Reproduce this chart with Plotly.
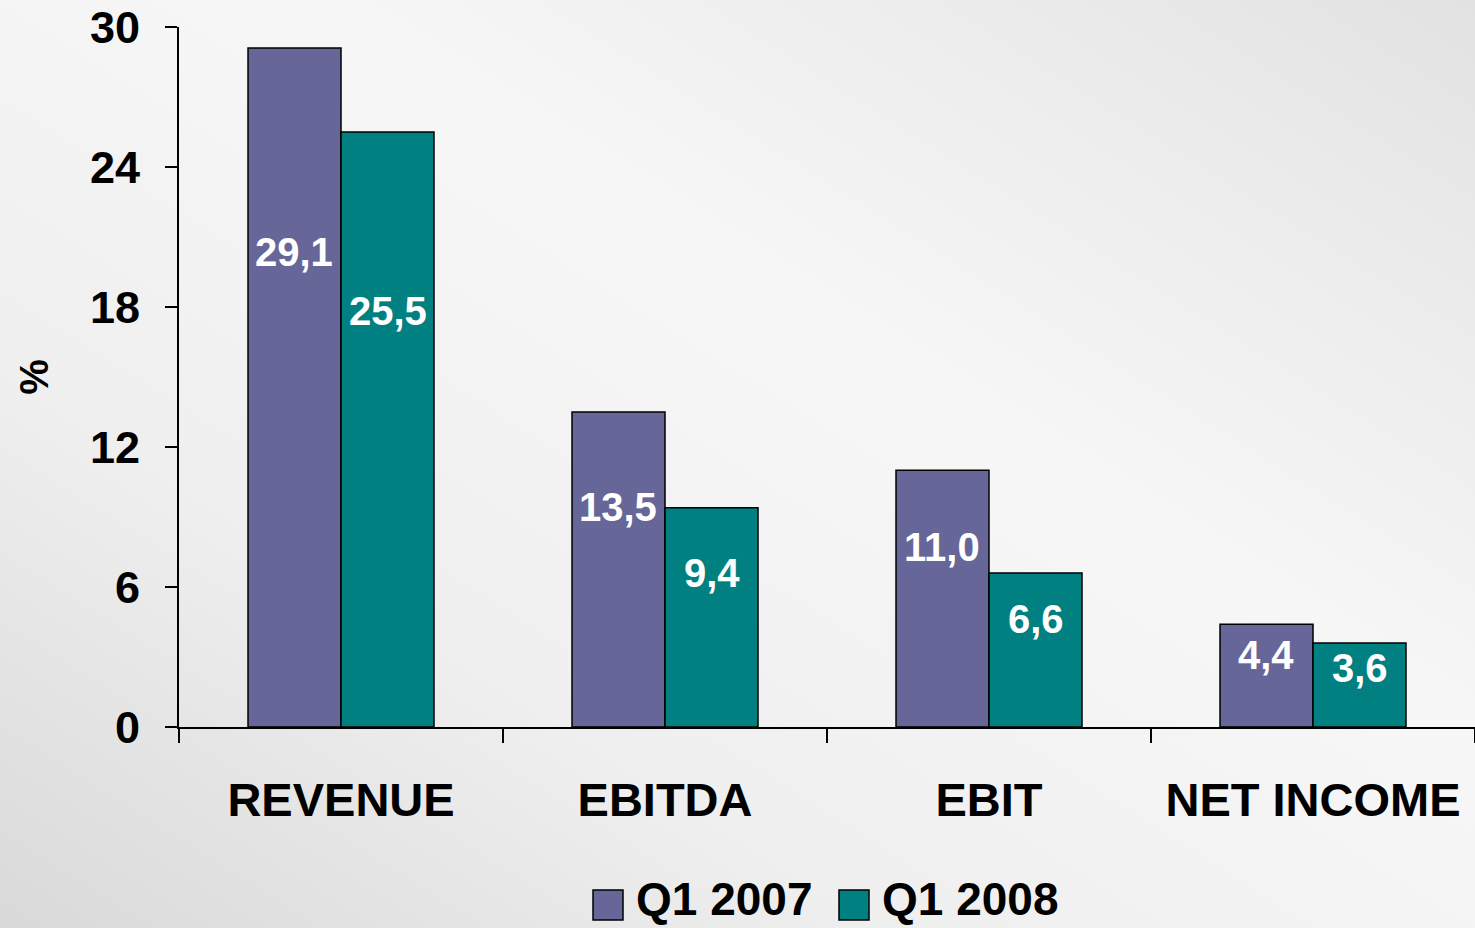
import base64
import plotly.graph_objects as go

categories = ["REVENUE", "EBITDA", "EBIT", "NET INCOME"]
series_names = ["Q1 2007", "Q1 2008"]
q1_2007 = [29.1, 13.5, 11.0, 4.4]
q1_2008 = [25.5, 9.4, 6.6, 3.6]
y_ticks = [0, 6, 12, 18, 24, 30]

colors = ["#666699", "#008080"]
FONT = "Liberation Sans, Arial, sans-serif"

fig = go.Figure()
for name, vals, col in zip(series_names, [q1_2007, q1_2008], colors):
    fig.add_trace(go.Bar(
        name=name, x=categories, y=vals,
        marker=dict(color=col, line=dict(color="#000000", width=1.5)),
        showlegend=False, hoverinfo="x+y+name",
    ))

# value labels inside bars
for si, (vals, shift) in enumerate(zip([q1_2007, q1_2008], [-47, 47])):
    for c, v in zip(categories, vals):
        fig.add_annotation(
            x=c, y=v * 0.7, xref="x", yref="y", xshift=shift,
            text=f"{v:.1f}".replace(".", ","), showarrow=False,
            font=dict(family=FONT, size=40, color="white", weight="bold"),
        )

# background gradient
svg = (
    '<svg xmlns="http://www.w3.org/2000/svg" width="1475" height="928" preserveAspectRatio="none">'
    '<defs><linearGradient id="g" x1="0" y1="1" x2="1" y2="0">'
    '<stop offset="0" stop-color="#d9d9d9"/>'
    '<stop offset="0.3" stop-color="#efefef"/>'
    '<stop offset="0.6" stop-color="#f7f7f7"/>'
    '<stop offset="0.8" stop-color="#ededed"/>'
    '<stop offset="1" stop-color="#e2e2e2"/>'
    '</linearGradient></defs>'
    '<rect width="1475" height="928" fill="url(#g)"/></svg>'
)
uri = "data:image/svg+xml;base64," + base64.b64encode(svg.encode()).decode()

W, H = 1475, 928
L, R, T, B = 179, 0, 27, 201
pw, ph = W - L - R, H - T - B
fig.add_layout_image(
    source=uri, xref="paper", yref="paper",
    x=-L / pw, y=1 + T / ph, sizex=W / pw, sizey=H / ph,
    xanchor="left", yanchor="top", sizing="stretch", layer="below",
)

# manual legend
def px2x(px):
    return (px - L) / pw

def py2y(py):
    return (H - B - py) / ph

leg_items = [(593, 638), (839, 884)]
for (sq, tx), name, col in zip(leg_items, series_names, colors):
    fig.add_shape(type="rect", xref="paper", yref="paper",
                  x0=px2x(sq), x1=px2x(sq + 30), y0=py2y(920), y1=py2y(890),
                  fillcolor=col, line=dict(color="black", width=1.5))
    fig.add_annotation(x=px2x(tx - 4), y=py2y(927), xref="paper", yref="paper",
                       xanchor="left", yanchor="bottom", showarrow=False, text=name,
                       font=dict(family=FONT, size=46, color="black", weight="bold"))

fig.update_layout(
    width=W, height=H,
    margin=dict(l=L, r=R, t=T, b=B, pad=0),
    paper_bgcolor="#eeeeee", plot_bgcolor="rgba(0,0,0,0)",
    barmode="group", bargap=0.426, bargroupgap=0,
    showlegend=False,
    font=dict(family=FONT, color="black"),
)
fig.update_xaxes(
    showgrid=False, showline=True, linecolor="black", linewidth=2,
    ticks="outside", tickson="boundaries", ticklen=14, tickwidth=2, tickcolor="black",
    tickfont=dict(family=FONT, size=47, weight="bold"), ticklabelstandoff=31,
)
fig.update_yaxes(
    range=[0, 30], tickvals=y_ticks, showgrid=False, zeroline=False,
    showline=True, linecolor="black", linewidth=2,
    ticks="outside", ticklen=12, tickwidth=2, tickcolor="black",
    tickfont=dict(family=FONT, size=45, weight="bold"), ticklabelstandoff=16,
    title=dict(text="%", font=dict(family=FONT, size=40, weight="bold"), standoff=29),
)

fig.write_html(
    "out.html",
    config={"displayModeBar": False},
    post_script="document.body.style.margin='0';document.body.style.overflow='hidden';",
)
